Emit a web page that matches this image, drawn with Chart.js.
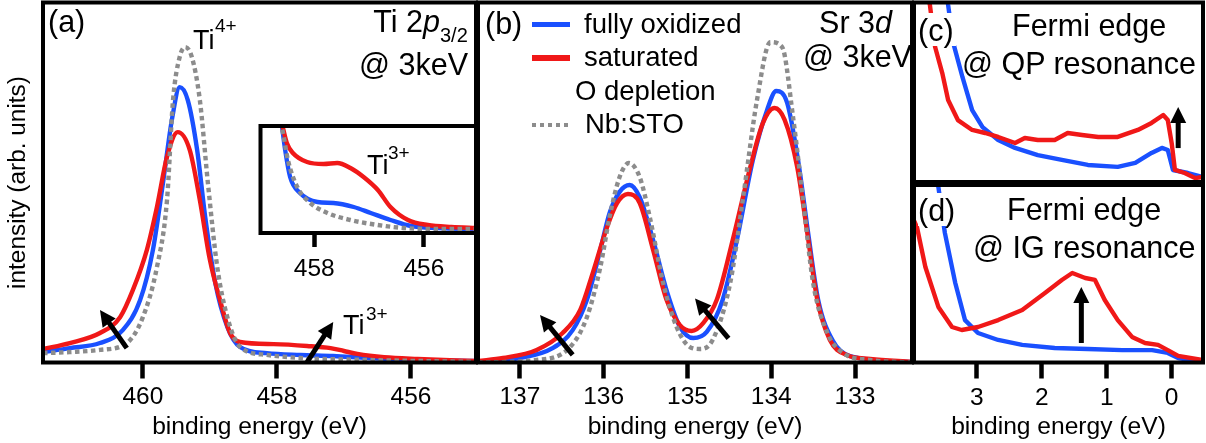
<!DOCTYPE html>
<html><head><meta charset="utf-8">
<script src="https://cdn.jsdelivr.net/npm/chart.js@4.4.1/dist/chart.umd.min.js"></script>
<style>
html,body{margin:0;padding:0;background:#fff;}
#wrap{position:relative;width:1206px;height:443px;overflow:hidden;font-family:"Liberation Sans",Arial,Helvetica,sans-serif;background:#fff;}
canvas{position:absolute;left:0;top:0;}
.t{position:absolute;white-space:nowrap;line-height:1;color:#000;}
.ln{position:absolute;}
</style></head><body><div id="wrap">
<canvas id="cA" width="1206" height="443"></canvas>
<canvas id="cIn" width="1206" height="443"></canvas>
<canvas id="cB" width="1206" height="443"></canvas>
<canvas id="cC" width="1206" height="443"></canvas>
<canvas id="cD" width="1206" height="443"></canvas>
</div>
<script>
// ---------------- DATA ----------------
// Panel (a): Ti 2p3/2 (binding energy eV, intensity arb. units)
const aTicks = [460, 458, 456];
const aRedE  = [461.49,461.09,460.64,460.34,460.15,459.94,459.79,459.64,459.48,459.30,459.15,459.00,458.85,458.70,458.55,458.05,457.55,457.20,457.00,456.80,456.40,455.90,455.03];
const aRed   = [3.75,5.4,8.2,12.6,20.1,31.3,43.2,57.1,64.0,59.0,45.1,28.5,17.4,8.2,5.7,5.1,4.6,4.0,3.2,2.4,1.5,1.0,0.4];
const aBlueE = [461.49,461.09,460.64,460.30,460.04,459.85,459.70,459.56,459.45,459.33,459.19,459.07,458.92,458.74,458.55,458.15,457.65,457.16,456.65,455.91,455.03];
const aBlue  = [2.9,4.0,5.4,9.0,17.4,31.3,49.9,68.2,76.5,72.9,59.0,40.4,22.1,9.9,4.3,2.6,2.1,1.8,1.25,0.7,0.4];
const aGrayE = [461.49,461.09,460.64,460.24,460.00,459.79,459.64,459.55,459.45,459.37,459.27,459.15,459.03,458.89,458.74,458.55,458.15,457.65,456.65,455.03];
const aGray  = [2.6,2.9,3.5,5.4,12.6,26.5,45.1,72.9,84.9,87.6,84.9,72.9,49.9,26.5,12.6,4.3,2.1,1.25,0.7,0.15];
// Inset of (a)
const inTicks = [458, 456];
const inRedE  = [458.60,458.50,458.39,458.13,457.83,457.58,457.34,457.10,456.84,456.61,456.29,455.93,455.50,455.03];
const inRed   = [112,90,80,71,69,70,65,56,43,26,13,8,6,5];
const inBlueE = [458.60,458.53,458.44,458.26,457.94,457.65,457.28,456.97,456.61,456.24,455.74,455.03];
const inBlue  = [112,83,56,40,31,30,26,20,13,7,5,4];
const inGrayE = [458.62,458.57,458.48,458.31,458.07,457.76,457.34,456.84,456.37,455.74,455.03];
const inGray  = [111,100,73,46,30,20,13,8,5,4,4];
// Panel (b): Sr 3d
const bTicks = [137, 136, 135, 134, 133];
const bRedE  = [137.50,137.20,136.80,136.49,136.28,136.13,135.96,135.84,135.71,135.57,135.41,135.25,135.09,134.95,134.81,134.65,134.46,134.25,134.10,133.96,133.84,133.69,133.57,133.45,133.30,133.10,132.82,132.32];
const bRed   = [0.4,1.25,3.5,8.2,14.6,24.9,37.6,44.3,46.8,44.3,31.3,17.4,10.4,8.75,11.0,17.4,34.0,54.3,66.5,70.7,67.4,54.3,36.0,17.4,6.25,2.1,1.0,0.15];
const bBlueE = [137.50,137.00,136.61,136.37,136.20,136.04,135.93,135.81,135.69,135.57,135.41,135.24,135.09,134.93,134.77,134.58,134.41,134.22,134.05,133.94,133.81,133.68,133.56,133.44,133.27,133.06,132.32];
const bBlue  = [0.15,1.25,4.0,9.0,17.4,31.3,41.5,47.4,49.3,45.9,34.0,19.3,9.9,6.8,8.5,17.4,34.0,56.2,70.1,75.4,72.1,56.2,36.0,17.4,6.25,1.8,0.15];
const bGrayE = [137.50,136.80,136.40,136.20,136.04,135.93,135.81,135.70,135.57,135.45,135.29,135.13,134.97,134.85,134.70,134.49,134.34,134.17,134.01,133.87,133.74,133.62,133.50,133.33,133.14,132.82,132.32];
const bGray  = [0,0.7,4.3,12.6,26.5,40.4,51.5,55.4,51.5,40.4,22.1,9.9,4.3,3.75,6.25,22.1,45.1,72.9,89.0,87.6,68.2,45.1,22.1,8.2,2.6,0.7,0];
// Panel (c): Fermi edge @ QP resonance
const cRedE  = [3.76,3.72,3.64,3.53,3.44,3.29,3.07,2.87,2.67,2.41,2.26,2.06,1.80,1.60,1.38,1.13,0.83,0.52,0.31,0.13,0.06,0.00,-0.05,-0.20,-0.36,-0.47];
const cRed   = [105,98.6,75.2,60.7,45.7,34.5,29.0,27.3,25.1,21.7,24.5,23.4,23.4,27.3,26.2,25.1,25.1,29.0,32.9,37.3,34.5,21.7,6.7,5.0,2.2,2.8];
const cBlueE = [3.46,3.44,3.36,3.22,3.07,2.91,2.67,2.41,2.06,1.69,1.29,0.83,0.56,0.31,0.15,0.06,-0.02,-0.25,-0.47];
const cBlue  = [105,98.6,77.4,58.5,40.1,30.6,23.4,19.0,15.0,12.3,9.5,8.4,10.6,16.2,19.0,17.8,6.7,5.0,2.8];
// Panel (d): Fermi edge @ IG resonance
const dTicks = [3, 2, 1, 0];
const dRedE  = [3.97,3.92,3.79,3.59,3.38,3.23,2.98,2.67,2.30,1.95,1.69,1.53,1.33,1.18,1.03,0.83,0.61,0.41,0.21,0.06,-0.10,-0.47];
const dRed   = [80.3,76.3,53.8,31.3,20.0,18.3,20.0,23.9,29.6,39.2,46.5,50.4,47.6,46.5,35.2,23.9,14.4,11.0,9.9,7.0,3.7,1.4];
const dBlueE = [3.63,3.59,3.49,3.33,3.18,2.98,2.67,2.30,1.80,1.29,0.76,0.30,0.06,-0.10,-0.47];
const dBlue  = [102.8,98.9,73.0,44.8,23.9,16.6,12.7,9.9,8.2,7.6,7.0,7.0,5.4,2.5,0.3];
// Arrows (tail energy, tail intensity, head energy, head intensity)
const aArrows = [[460.24,4.0,460.64,14.6],[457.55,0.1,457.16,11.25]];
const bArrows = [[136.37,2.1,136.76,13.2],[134.51,6.7,134.91,17.8]];
const cArrows = [[-0.10,18.9,-0.10,41.8]];
const dArrows = [[1.39,11.0,1.39,42.5]];

// ---------------- STYLE / LAYOUT ----------------
const W = 1206, H = 443;
const BLUE = '#1a50ff', RED = '#f01818', GRAY = '#8c8c8c';
Chart.defaults.font.family = "'Liberation Sans', Arial, Helvetica, sans-serif";
Chart.defaults.color = '#000';
Chart.defaults.animation = false;

function pts(xs, ys){ return xs.map((x,i)=>({x:x, y:ys[i]})); }
function ds(xs, ys, color, dashed, order, smooth){
  return { data: pts(xs,ys), borderColor: color, borderWidth: 4.4, borderDash: dashed ? [4.5,3.5] : [],
    pointRadius: 0, fill: false, order: order, tension: smooth ? 0.4 : 0,
    cubicInterpolationMode: smooth ? 'monotone' : 'default', borderJoinStyle: 'round' };
}
function deco(arrows, whiteBg){
  return {
    id: 'deco',
    beforeDraw(chart){
      if (!whiteBg) return;
      const a = chart.chartArea, ctx = chart.ctx;
      ctx.save(); ctx.fillStyle = '#fff'; ctx.fillRect(a.left, a.top, a.right-a.left, a.bottom-a.top); ctx.restore();
    },
    afterDatasetsDraw(chart){
      const ctx = chart.ctx, sx = chart.scales.x, sy = chart.scales.y;
      ctx.save(); ctx.fillStyle = '#000'; ctx.strokeStyle = '#000';
      arrows.forEach(ar => {
        const x1 = sx.getPixelForValue(ar[0]), y1 = sy.getPixelForValue(ar[1]);
        const x2 = sx.getPixelForValue(ar[2]), y2 = sy.getPixelForValue(ar[3]);
        const dx = x2-x1, dy = y2-y1, len = Math.hypot(dx,dy), ux = dx/len, uy = dy/len;
        const L = 16, Wd = 8;
        const bx = x2 - ux*L, by = y2 - uy*L;
        ctx.lineWidth = 5; ctx.lineCap = 'butt';
        ctx.beginPath(); ctx.moveTo(x1,y1); ctx.lineTo(bx+ux*2, by+uy*2); ctx.stroke();
        ctx.beginPath(); ctx.moveTo(x2,y2); ctx.lineTo(bx - uy*Wd, by + ux*Wd); ctx.lineTo(bx + uy*Wd, by - ux*Wd); ctx.closePath(); ctx.fill();
      });
      ctx.restore();
    },
    afterDraw(chart){
      const a = chart.chartArea, ctx = chart.ctx;
      ctx.save(); ctx.lineWidth = 4; ctx.strokeStyle = '#000';
      ctx.strokeRect(a.left, a.top, a.right-a.left, a.bottom-a.top); ctx.restore();
    }
  };
}
function xAxis(min, max, tickVals, h, o){
  return {
    type: 'linear', reverse: true, min: min, max: max, display: o.display !== false,
    afterBuildTicks: s => { s.ticks = tickVals.map(v => ({value: v})); },
    afterFit: s => { s.height = h; },
    grid: {display: true, drawOnChartArea: false, drawTicks: true, tickLength: o.tl || 16, tickWidth: 4.5, tickColor: '#000'},
    border: {display: false},
    ticks: {font: {size: 24.5}, padding: o.pad, maxRotation: 0, autoSkip: false, callback: v => String(v)},
    title: o.title ? {display: true, text: 'binding energy (eV)', font: {size: 24.6}, padding: {top: 0, bottom: 1.5}} : {display: false}
  };
}
function make(id, datasets, scales, padding, plugin){
  return new Chart(document.getElementById(id), {
    type: 'line',
    data: {datasets: datasets},
    options: {responsive: false, devicePixelRatio: 1, animation: false,
      layout: {padding: padding},
      plugins: {legend: {display: false}, tooltip: {enabled: false}},
      scales: scales},
    plugins: [plugin]
  });
}

// Panel (a)
make('cA', [ds(aBlueE,aBlue,BLUE,false,2,true), ds(aRedE,aRed,RED,false,1,true), ds(aGrayE,aGray,GRAY,true,0,true)],
  { x: xAxis(455.03, 461.49, aTicks, H-362.5, {title: true, pad: 4}),
    y: {min: 0, max: 100, display: true, afterFit: s => { s.width = 43; },
        ticks: {display: false}, grid: {display: false}, border: {display: false},
        title: {display: true, text: 'intensity (arb. units)', font: {size: 24.4}, padding: {top: 4, bottom: 0}}} },
  {left: 0, right: W-476, top: 2.5, bottom: 0}, deco(aArrows, false));
// Inset
make('cIn', [ds(inBlueE,inBlue,BLUE,false,2,true), ds(inRedE,inRed,RED,false,1,true), ds(inGrayE,inGray,GRAY,true,0,true)],
  { x: xAxis(455.05, 458.98, inTicks, H-233, {tl: 14, pad: 8}),
    y: {min: 0, max: 107, display: false} },
  {left: 260.5, right: W-476, top: 126, bottom: 0}, deco([], true));
// Panel (b)
make('cB', [ds(bBlueE,bBlue,BLUE,false,2,true), ds(bRedE,bRed,RED,false,1,true), ds(bGrayE,bGray,GRAY,true,0,true)],
  { x: xAxis(132.32, 137.50, bTicks, H-362.5, {title: true, pad: 4}),
    y: {min: 0, max: 100, display: false} },
  {left: 478, right: W-912, top: 2.5, bottom: 0}, deco(bArrows, false));
// Panel (c)
make('cC', [ds(cBlueE,cBlue,BLUE,false,2,false), ds(cRedE,cRed,RED,false,1,false)],
  { x: {type: 'linear', reverse: true, min: -0.482, max: 3.965, display: false},
    y: {min: 0, max: 100, display: false} },
  {left: 914, right: W-1203, top: 2.5, bottom: H-182}, deco(cArrows, false));
// Panel (d)
make('cD', [ds(dBlueE,dBlue,BLUE,false,2,false), ds(dRedE,dRed,RED,false,1,false)],
  { x: xAxis(-0.482, 3.965, dTicks, H-362.5, {title: true, pad: 5}),
    y: {min: 0, max: 100, display: false} },
  {left: 914, right: W-1203, top: 185, bottom: 0}, deco(dArrows, false));

// ---------------- TEXT ----------------
const wrap = document.getElementById('wrap');
function txt(html, x, base, size, align, bg){
  const d = document.createElement('div'); d.className = 't'; d.innerHTML = html;
  d.style.fontSize = size + 'px'; d.style.top = (base - 0.8465*size) + 'px';
  if (align === 'right') d.style.right = (W - x) + 'px'; else d.style.left = x + 'px';
  if (bg) { d.style.background = '#fff'; d.style.padding = '2px 2px 0 0'; }
  wrap.appendChild(d);
}
function line(x, y, w, h, bg){
  const d = document.createElement('div'); d.className = 'ln';
  d.style.left = x+'px'; d.style.top = (y - h/2)+'px'; d.style.width = w+'px'; d.style.height = h+'px'; d.style.background = bg;
  wrap.appendChild(d);
}
const BIG = 30.5, LEG = 27.5;
txt('(a)', 48, 32, BIG);
txt('Ti 2<i>p</i>', 440, 32, BIG, 'right'); txt('3/2', 440, 42, 20);
txt('@ 3keV', 468, 75, BIG, 'right');
txt('Ti', 193, 50, 27); txt('4+', 215, 32, 19);
txt('Ti', 343, 335, 27); txt('3+', 366, 320, 19);
txt('Ti', 367, 175, 27); txt('3+', 388, 159, 19);
txt('(b)', 485, 34, BIG);
txt('Sr 3<i>d</i>', 892, 33, BIG, 'right');
txt('@ 3keV', 803, 67, BIG);
line(532, 24.5, 38, 5.5, BLUE); txt('fully oxidized', 584, 33, LEG);
line(532, 58, 38, 5.5, RED); txt('saturated', 584, 66.5, LEG);
txt('O depletion', 575, 100, LEG);
line(532, 125, 38, 4.5, 'repeating-linear-gradient(to right,' + GRAY + ' 0 4.5px, transparent 4.5px 8px)'); txt('Nb:STO', 585, 133.5, LEG);
txt('(c)', 918, 39, BIG, null, true); txt('Fermi edge', 1012, 36, BIG); txt('@ QP resonance', 962, 74, BIG);
txt('(d)', 918, 219, BIG, null, true); txt('Fermi edge', 1007, 220, BIG); txt('@ IG resonance', 973, 258, BIG);
</script>
</body></html>
